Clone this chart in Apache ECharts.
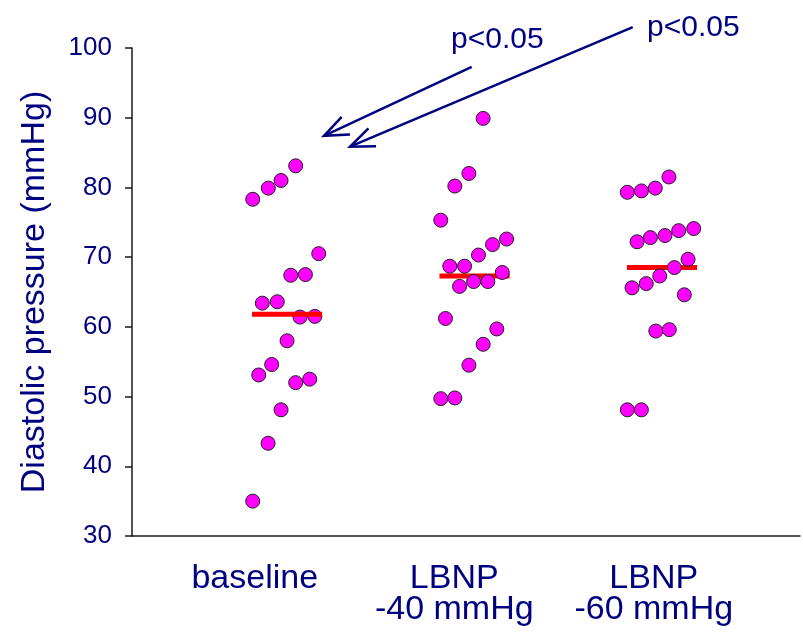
<!DOCTYPE html>
<html>
<head>
<meta charset="utf-8">
<script src="https://cdn.jsdelivr.net/npm/echarts@6/dist/echarts.min.js"></script>
<style>html,body{margin:0;padding:0;background:#fff}#c{width:803px;height:639px}</style>
</head>
<body>
<div id="c"></div>
<script>
// ---- data ----
const categories = ['baseline', 'LBNP\n-40 mmHg', 'LBNP\n-60 mmHg'];
const yTicks = { min: 30, max: 100, interval: 10 };

const baselineValues = [83.1, 81.0, 79.9, 78.3, 70.5, 67.4, 67.5, 63.4, 63.6, 61.4, 61.5, 58.0, 54.6, 53.1, 52.0, 52.5, 48.1, 43.3, 35.0];
const baselineJitter = [0.046, -0.032, -0.100, -0.183, 0.169, 0.020, 0.098, -0.132, -0.052, 0.069, 0.148, 0.000, -0.082, -0.151, 0.046, 0.121, -0.032, -0.101, -0.183];

const lbnp40Values = [89.9, 82.0, 80.2, 75.3, 72.6, 71.8, 70.3, 68.7, 68.7, 67.8, 65.8, 66.5, 66.5, 61.2, 59.7, 57.5, 54.5, 49.7, 49.8];
const lbnp40Jitter = [0.046, -0.030, -0.105, -0.180, 0.171, 0.096, 0.021, -0.132, -0.053, 0.148, -0.080, -0.005, 0.071, -0.155, 0.119, 0.046, -0.030, -0.180, -0.105];

const lbnp60Values = [81.5, 79.9, 79.5, 79.3, 74.1, 73.8, 73.1, 72.8, 72.2, 69.7, 68.5, 67.3, 66.2, 65.6, 64.6, 59.4, 59.6, 48.1, 48.1];
const lbnp60Jitter = [0.037, -0.036, -0.110, -0.185, 0.169, 0.089, 0.016, -0.062, -0.133, 0.139, 0.066, -0.012, -0.084, -0.160, 0.119, -0.033, 0.039, -0.185, -0.110];

const groupMeans = [61.8, 67.3, 68.5];
const meanHalfWidth = 0.187;

// annotations (data coordinates of the grid)
const arrows = [
  { from: [1.985, 97.3], to: [1.197, 87.4] },
  { from: [2.844, 103.0], to: [1.336, 85.85] }
];
const pLabels = [
  { text: 'p<0.05', at: [1.875, 101.2] },
  { text: 'p<0.05', at: [2.92, 102.95] }
];

// ---- chart ----
const NAVY = '#000080';
const FONT = '"Liberation Sans", Arial, sans-serif';
const groups = [
  { values: baselineValues, jitter: baselineJitter, lineOnTop: true },
  { values: lbnp40Values, jitter: lbnp40Jitter, lineOnTop: false },
  { values: lbnp60Values, jitter: lbnp60Jitter, lineOnTop: false }
];

const series = [];
groups.forEach((g, i) => {
  const center = i + 1;
  series.push({
    type: 'scatter',
    xAxisIndex: 0, yAxisIndex: 0,
    symbol: 'circle', symbolSize: 14,
    itemStyle: { color: '#ff00ff', borderColor: '#202020', borderWidth: 1, opacity: 1 },
    z: g.lineOnTop ? 3 : 5,
    silent: true,
    data: g.values.map((v, k) => [center + g.jitter[k], v])
  });
  series.push({
    type: 'line',
    xAxisIndex: 0, yAxisIndex: 0,
    symbol: 'none',
    lineStyle: { color: '#ff0000', width: 5, cap: 'butt' },
    z: g.lineOnTop ? 6 : 4,
    silent: true,
    data: [[center - meanHalfWidth, groupMeans[i]], [center + meanHalfWidth, groupMeans[i]]]
  });
});

const chart = echarts.init(document.getElementById('c'), null, { renderer: 'canvas' });
chart.setOption({
  animation: false,
  backgroundColor: '#ffffff',
  grid: [
    { left: 132, right: 3, top: 48, bottom: 103, containLabel: false },
    { left: 155, right: 49.5, top: 48, bottom: 103, containLabel: false }
  ],
  xAxis: [
    {
      type: 'value', gridIndex: 0, min: 0.173, max: 3.736,
      axisLine: { show: true, onZero: false, lineStyle: { color: '#1a1a1a', width: 1.5 } },
      axisTick: { show: false }, axisLabel: { show: false }, splitLine: { show: false }
    },
    {
      type: 'category', gridIndex: 1, data: categories,
      axisLine: { show: false }, axisTick: { show: false }, splitLine: { show: false },
      axisLabel: {
        show: true, interval: 0, margin: 27,
        color: NAVY, fontSize: 34, lineHeight: 31, fontFamily: FONT, align: 'center'
      }
    }
  ],
  yAxis: [
    {
      type: 'value', gridIndex: 0, min: yTicks.min, max: yTicks.max, interval: yTicks.interval,
      name: 'Diastolic pressure (mmHg)', nameLocation: 'middle', nameRotate: 90, nameGap: 80,
      nameTextStyle: { color: NAVY, fontSize: 34, fontFamily: FONT },
      axisLine: { show: true, lineStyle: { color: '#1a1a1a', width: 1.5 } },
      axisTick: { show: true, length: 7, inside: false, lineStyle: { color: '#1a1a1a', width: 1.5 } },
      axisLabel: { color: NAVY, fontSize: 26, fontFamily: FONT, margin: 20 },
      splitLine: { show: false }
    },
    {
      type: 'value', gridIndex: 1, min: 0, max: 1, show: false
    }
  ],
  series: series
});

// annotation arrows & texts, converted from data coords through the grid
function px(p) { return chart.convertToPixel({ gridIndex: 0 }, p); }
const elements = [];
arrows.forEach(a => {
  const s = px(a.from), t = px(a.to);
  const dx = s[0] - t[0], dy = s[1] - t[1];
  const len = Math.hypot(dx, dy);
  const ux = dx / len, uy = dy / len;
  const ang = 22 * Math.PI / 180, armLen = 26;
  const rot = (c, sn) => [t[0] + armLen * (ux * c - uy * sn), t[1] + armLen * (ux * sn + uy * c)];
  const armA = rot(Math.cos(ang), Math.sin(ang));
  const armB = rot(Math.cos(-ang), Math.sin(-ang));
  elements.push({
    type: 'line', silent: true, z: 10,
    shape: { x1: s[0], y1: s[1], x2: t[0], y2: t[1] },
    style: { stroke: NAVY, lineWidth: 2.5 }
  });
  elements.push({
    type: 'polyline', silent: true, z: 10,
    shape: { points: [armA, t, armB] },
    style: { stroke: NAVY, lineWidth: 2.5, fill: null }
  });
});
pLabels.forEach(l => {
  const p = px(l.at);
  elements.push({
    type: 'text', silent: true, z: 10, x: p[0], y: p[1],
    style: { text: l.text, fill: NAVY, font: '30px ' + FONT, align: 'left', verticalAlign: 'middle' }
  });
});
chart.setOption({ graphic: { elements: elements } });
</script>
</body>
</html>
